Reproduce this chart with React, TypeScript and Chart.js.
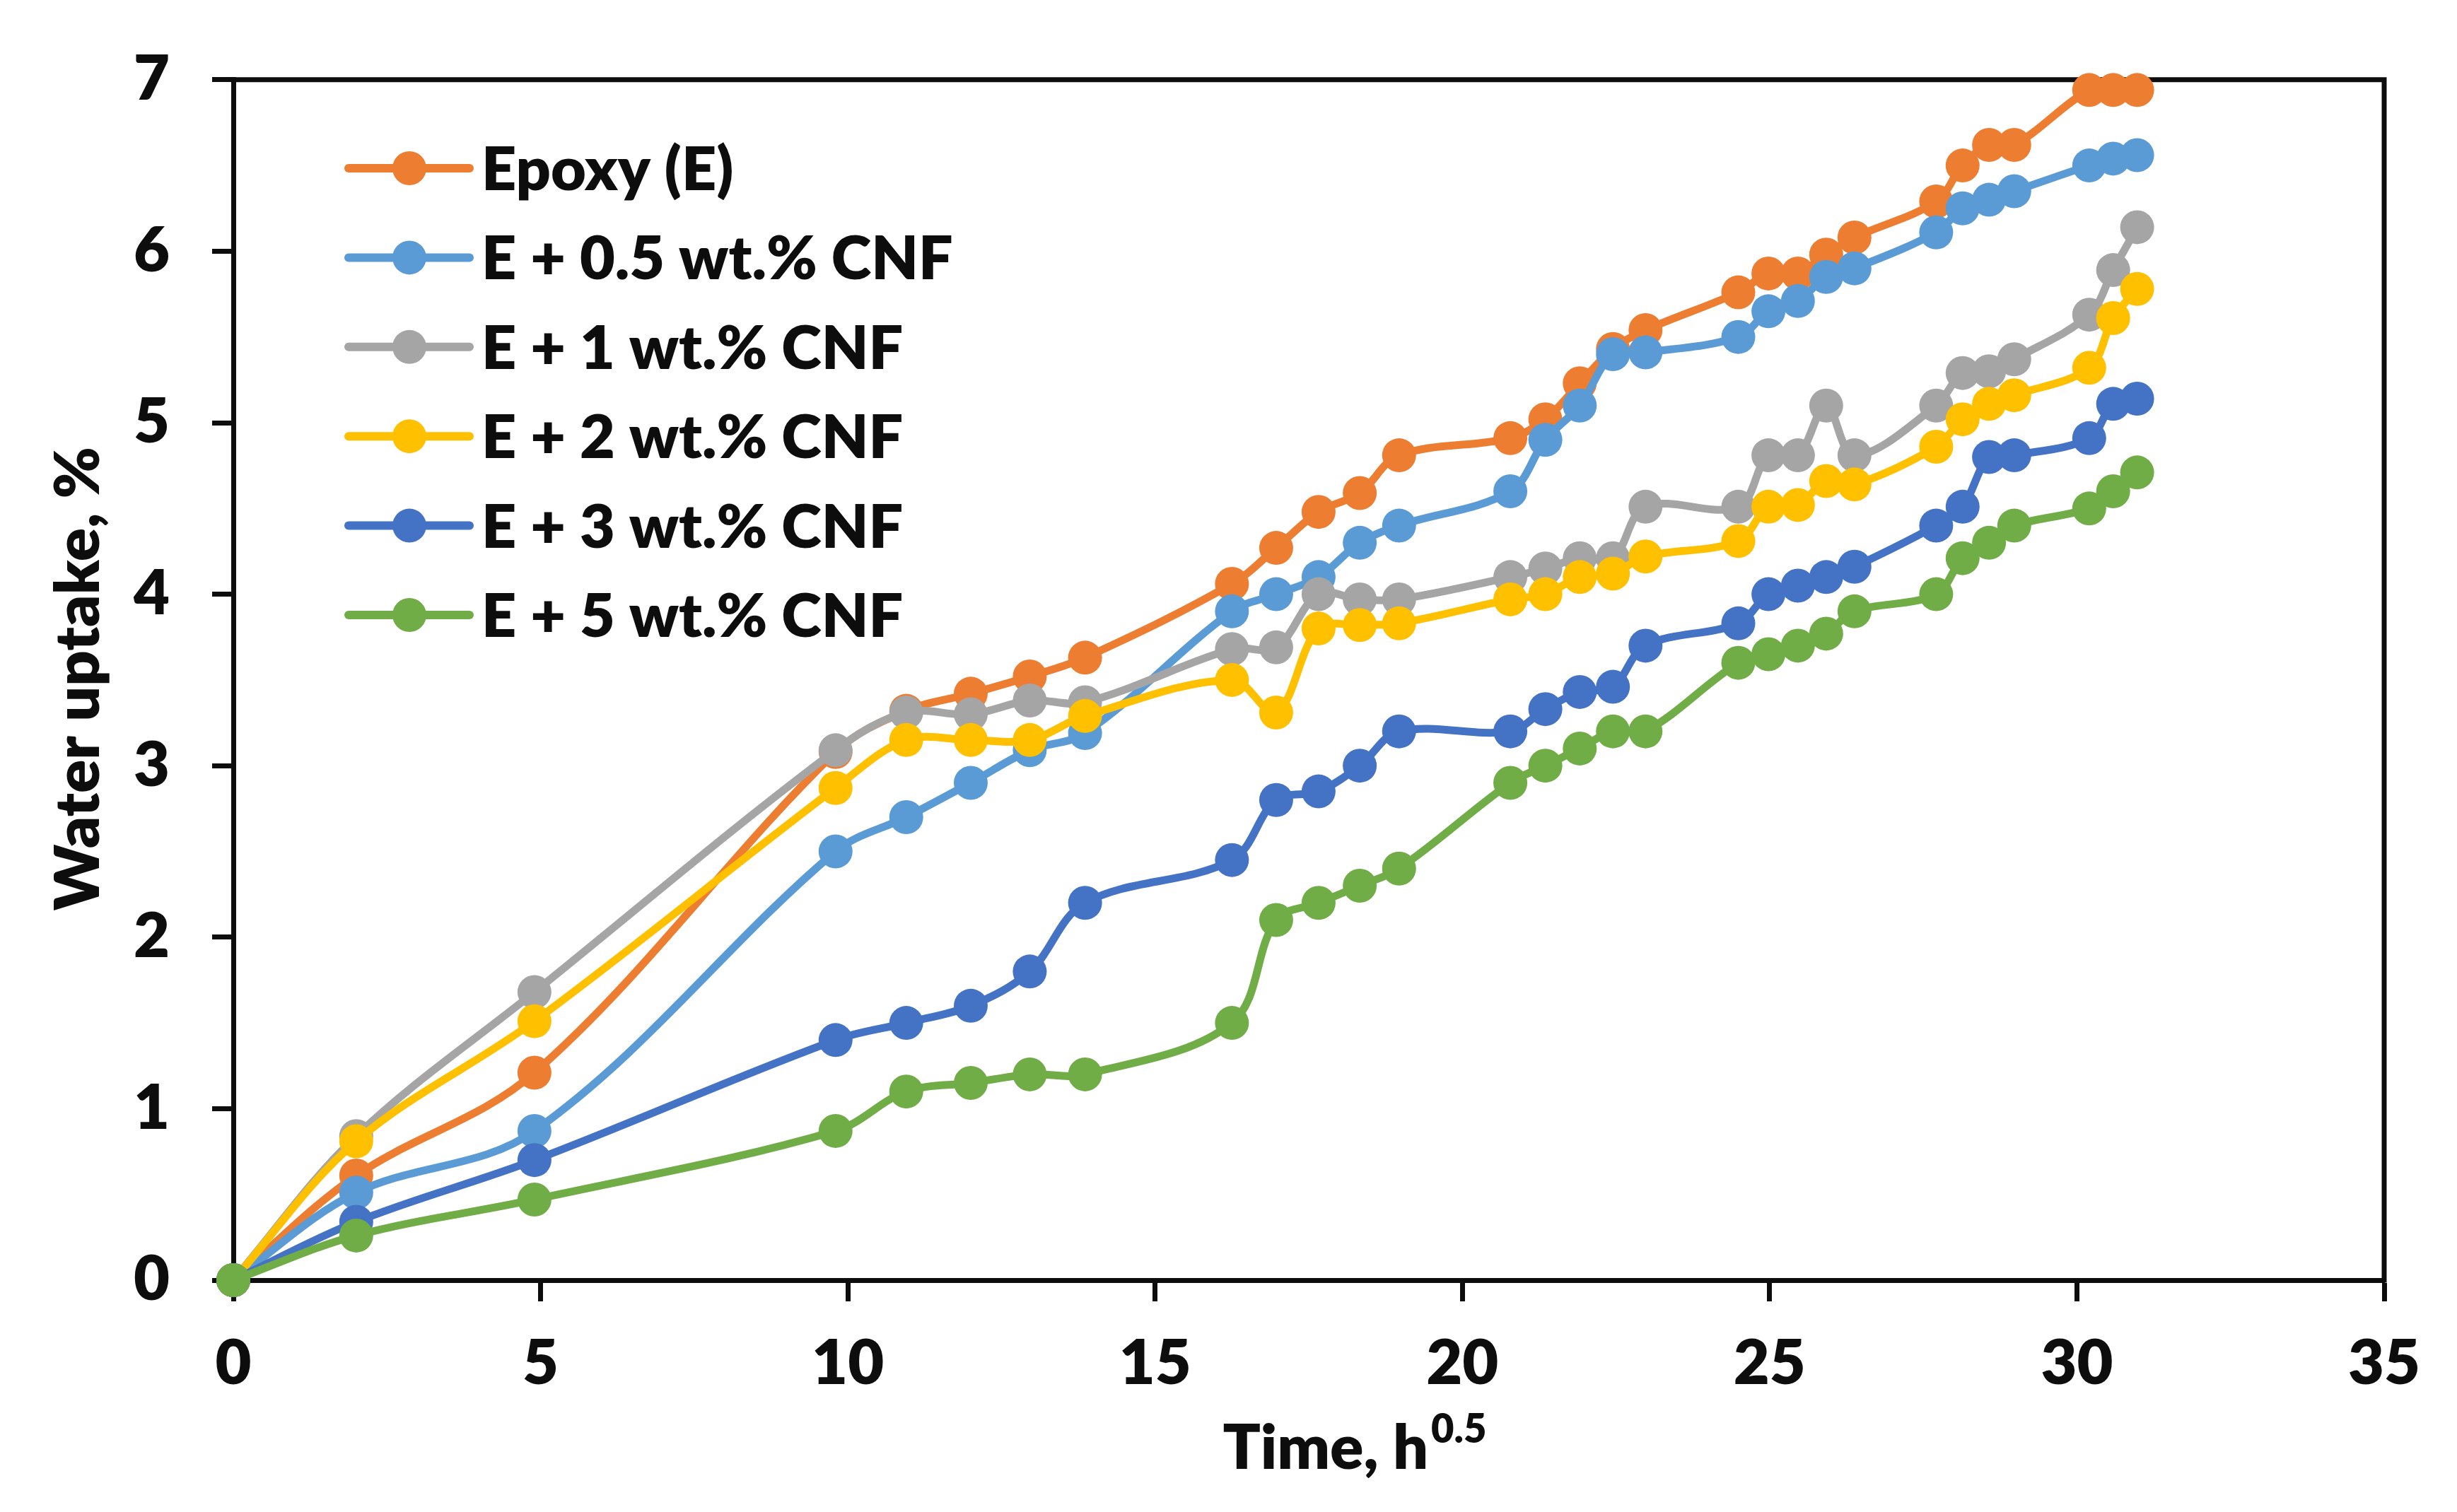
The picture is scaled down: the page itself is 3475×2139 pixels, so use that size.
import React, { useEffect, useRef } from 'react';
import { Chart, registerables } from 'chart.js';

Chart.register(...registerables);

const W = 3475;
const H = 2139;

// Time, h^0.5
const timeValues = [0, 2, 4.9, 9.8, 10.95, 12, 12.96, 13.86, 16.25, 16.97, 17.66, 18.33, 18.97, 20.78, 21.35, 21.91, 22.45, 22.98, 24.49, 24.98, 25.46, 25.92, 26.38, 27.71, 28.14, 28.57, 28.98, 30.2, 30.59, 30.98];

const epoxyValues = [0, 0.61, 1.21, 3.08, 3.32, 3.42, 3.52, 3.63, 4.06, 4.27, 4.48, 4.59, 4.81, 4.91, 5.02, 5.23, 5.43, 5.54, 5.76, 5.87, 5.87, 5.98, 6.08, 6.29, 6.5, 6.62, 6.62, 6.94, 6.94, 6.94];
const cnf05Values = [0, 0.51, 0.87, 2.5, 2.7, 2.9, 3.09, 3.19, 3.9, 4.0, 4.1, 4.3, 4.4, 4.6, 4.9, 5.1, 5.4, 5.41, 5.5, 5.65, 5.71, 5.85, 5.9, 6.11, 6.25, 6.3, 6.35, 6.5, 6.54, 6.56];
const cnf1Values = [0, 0.84, 1.68, 3.09, 3.31, 3.3, 3.38, 3.37, 3.68, 3.69, 4.0, 3.97, 3.97, 4.1, 4.15, 4.21, 4.21, 4.51, 4.51, 4.81, 4.81, 5.1, 4.81, 5.1, 5.29, 5.3, 5.37, 5.63, 5.89, 6.14];
const cnf2Values = [0, 0.81, 1.51, 2.87, 3.15, 3.15, 3.15, 3.29, 3.5, 3.31, 3.8, 3.82, 3.83, 3.97, 4.0, 4.1, 4.12, 4.22, 4.31, 4.51, 4.52, 4.66, 4.64, 4.86, 5.02, 5.11, 5.16, 5.32, 5.61, 5.78];
const cnf3Values = [0, 0.34, 0.7, 1.4, 1.5, 1.6, 1.8, 2.2, 2.45, 2.8, 2.85, 3.0, 3.2, 3.2, 3.33, 3.43, 3.46, 3.7, 3.83, 4.0, 4.05, 4.1, 4.16, 4.4, 4.51, 4.8, 4.81, 4.91, 5.11, 5.14];
const cnf5Values = [0, 0.26, 0.47, 0.87, 1.1, 1.15, 1.2, 1.2, 1.5, 2.1, 2.2, 2.3, 2.4, 2.9, 3.0, 3.1, 3.2, 3.2, 3.6, 3.65, 3.7, 3.77, 3.9, 4.0, 4.21, 4.3, 4.4, 4.5, 4.6, 4.71];

const seriesLabels = ['Epoxy (E)', 'E + 0.5 wt.% CNF', 'E + 1 wt.% CNF', 'E + 2 wt.% CNF', 'E + 3 wt.% CNF', 'E + 5 wt.% CNF'];
const seriesValues = [epoxyValues, cnf05Values, cnf1Values, cnf2Values, cnf3Values, cnf5Values];
const seriesColors = ['#ED7D31', '#5B9BD5', '#A5A5A5', '#FFC000', '#4472C4', '#70AD47'];

const xTicks = [0, 5, 10, 15, 20, 25, 30, 35];
const yTicks = [0, 1, 2, 3, 4, 5, 6, 7];

const xTitle = 'Time, h';
const xTitleSup = '0.5';
const yTitle = 'Water uptake, %';

const FONT = 'Lato, "Open Sans", sans-serif';
const WEIGHT = '800';
const INK = '#0D0D0D';

const framePlugin = {
  id: 'frame',
  beforeDatasetsDraw(chart: any) {
    const { ctx, chartArea } = chart;
    ctx.save();
    ctx.strokeStyle = INK;
    ctx.lineWidth = 7;
    ctx.lineCap = 'square';
    ctx.beginPath();
    ctx.moveTo(chartArea.left, chartArea.top);
    ctx.lineTo(chartArea.right, chartArea.top);
    ctx.lineTo(chartArea.right, chartArea.bottom);
    ctx.stroke();
    ctx.restore();
  },
};

const legendPlugin = {
  id: 'insideLegend',
  afterDatasetsDraw(chart: any) {
    const { ctx } = chart;
    const x0 = 493;
    const x1 = 664;
    const xm = 579;
    const textX = 681;
    const y0 = 238;
    const dy = 126.4;
    const size = 86;
    ctx.save();
    ctx.font = `${WEIGHT} ${size}px ${FONT}`;
    ctx.textAlign = 'left';
    ctx.textBaseline = 'alphabetic';
    chart.data.datasets.forEach((ds: any, i: number) => {
      const y = y0 + i * dy;
      ctx.strokeStyle = ds.borderColor;
      ctx.lineWidth = 12;
      ctx.lineCap = 'round';
      ctx.beginPath();
      ctx.moveTo(x0, y);
      ctx.lineTo(x1, y);
      ctx.stroke();
      ctx.fillStyle = ds.borderColor;
      ctx.beginPath();
      ctx.arc(xm, y, 24, 0, Math.PI * 2);
      ctx.fill();
      ctx.fillStyle = INK;
      ctx.fillText(ds.label, textX, y + size * 0.36);
    });
    ctx.restore();
  },
};

const titlesPlugin = {
  id: 'axisTitles',
  afterDraw(chart: any) {
    const { ctx } = chart;
    const size = 88;
    ctx.save();
    ctx.fillStyle = INK;
    // x title with superscript
    ctx.font = `${WEIGHT} ${size}px ${FONT}`;
    const mainW = ctx.measureText(xTitle).width;
    const supSize = Math.round(size * 0.64);
    ctx.font = `${WEIGHT} ${supSize}px ${FONT}`;
    const supW = ctx.measureText(xTitleSup).width;
    const total = mainW + supW + 4;
    const cx = 1916;
    const baseY = 2078;
    const startX = cx - total / 2;
    ctx.textAlign = 'left';
    ctx.textBaseline = 'alphabetic';
    ctx.font = `${WEIGHT} ${size}px ${FONT}`;
    ctx.fillText(xTitle, startX, baseY);
    ctx.font = `${WEIGHT} ${supSize}px ${FONT}`;
    ctx.fillText(xTitleSup, startX + mainW + 4, baseY - size * 0.42);
    // y title rotated
    ctx.translate(108, 960);
    ctx.rotate(-Math.PI / 2);
    ctx.font = `${WEIGHT} ${size}px ${FONT}`;
    ctx.textAlign = 'center';
    ctx.textBaseline = 'alphabetic';
    ctx.fillText(yTitle, 0, size * 0.36);
    ctx.restore();
  },
};

export default function App() {
  const ref = useRef<HTMLCanvasElement>(null);

  useEffect(() => {
    document.body.style.margin = '0';
    const canvas = ref.current;
    if (!canvas) return;
    const datasets = seriesLabels.map((label, i) => ({
      label,
      data: timeValues.map((x, j) => ({ x, y: seriesValues[i][j] })),
      borderColor: seriesColors[i],
      backgroundColor: seriesColors[i],
      pointBackgroundColor: seriesColors[i],
      pointBorderColor: seriesColors[i],
      pointBorderWidth: 0,
      pointRadius: 24,
      pointHoverRadius: 24,
      borderWidth: 11,
      tension: 0.35,
      borderCapStyle: 'round' as const,
      borderJoinStyle: 'round' as const,
      order: seriesLabels.length - i,
      clip: false as any,
    }));

    const axisCommon = {
      grid: {
        display: true,
        drawOnChartArea: false,
        drawTicks: true,
        tickLength: 30,
        tickWidth: 7,
        tickColor: INK,
      },
      border: { display: true, width: 7, color: INK },
    };

    const chart = new Chart(canvas, {
      type: 'line',
      data: { datasets },
      options: {
        animation: false,
        responsive: false,
        devicePixelRatio: 1,
        layout: { padding: { left: 0, right: 103, top: 108, bottom: 0 } },
        plugins: {
          legend: { display: false },
          tooltip: { enabled: false },
        },
        scales: {
          x: {
            type: 'linear',
            min: 0,
            max: 35,
            afterBuildTicks: (s: any) => {
              s.ticks = xTicks.map((v) => ({ value: v }));
            },
            ticks: {
              font: { family: FONT, size: 88, weight: WEIGHT },
              color: INK,
              padding: 36,
              maxRotation: 0,
            },
            afterFit: (s: any) => {
              s.height = 328;
            },
            ...axisCommon,
          },
          y: {
            type: 'linear',
            min: 0,
            max: 7,
            afterBuildTicks: (s: any) => {
              s.ticks = yTicks.map((v) => ({ value: v }));
            },
            ticks: {
              font: { family: FONT, size: 88, weight: WEIGHT },
              color: INK,
              padding: 60,
            },
            afterFit: (s: any) => {
              s.width = 330;
            },
            ...axisCommon,
          },
        },
      } as any,
      plugins: [framePlugin, legendPlugin, titlesPlugin],
    });
    return () => chart.destroy();
  }, []);

  return (
    <div style={{ width: W, height: H }}>
      <canvas ref={ref} width={W} height={H} style={{ width: W, height: H, display: 'block' }} />
    </div>
  );
}
